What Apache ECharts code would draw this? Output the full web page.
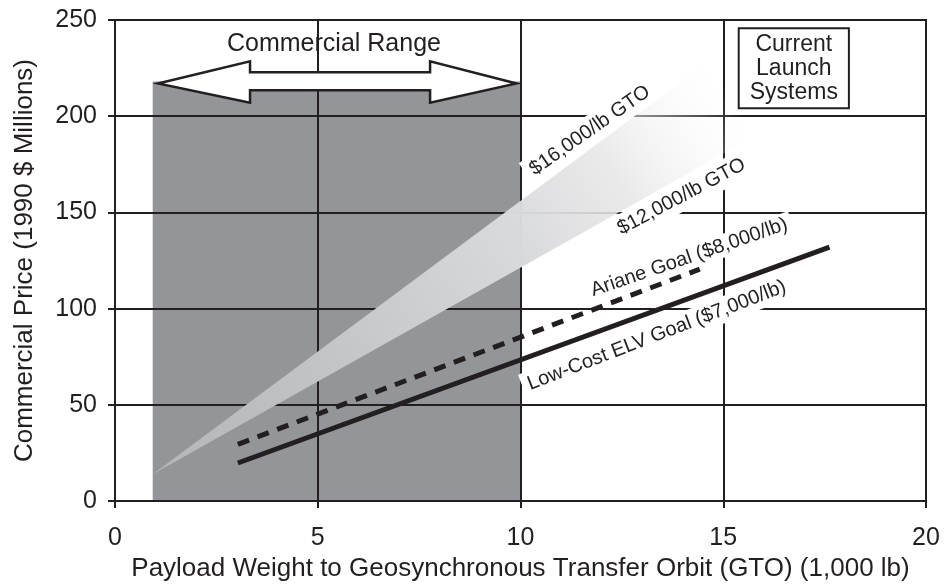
<!DOCTYPE html>
<html><head><meta charset="utf-8">
<script src="https://cdn.jsdelivr.net/npm/echarts@6/dist/echarts.min.js"></script>
<style>html,body{margin:0;padding:0;background:#fff}#c{width:946px;height:587px}</style>
</head><body><div id="c"></div>
<script>
// ---- data ----
const xRange = [0, 20];
const yRange = [0, 250];
const commercialRangeX = [0.93, 10];
const commercialRangeTop = 218;
const fanX = [0.93, 14.6, 15.8];
const fanY = [14, 228, 190];
const arrowX = [1.06, 3.33, 3.33, 7.77, 7.77, 9.9, 7.77, 7.77, 3.33, 3.33];
const arrowY = [217, 228.5, 222.8, 222.8, 228.5, 217, 207, 213.5, 213.5, 207];
const arianeX = [3.03, 14.42];
const arianeY = [29.5, 120.5];
const elvX = [3.03, 17.62];
const elvY = [19.8, 132];
const annotationTexts = ['Commercial Range', 'Current\nLaunch\nSystems', '$16,000/lb GTO', '$12,000/lb GTO', 'Ariane Goal ($8,000/lb)', 'Low-Cost ELV Goal ($7,000/lb)'];

// ---- layout / style ----
const INK = '#231f20';
const FONT = '"Liberation Sans", Arial, Helvetica, sans-serif';
const annotationLayout = [
  {at: [5.4, 237.7], rotate: 0, size: 25},
  {at: [16.74, 224.9], rotate: 0, size: 23, box: true},
  {at: [11.71, 192.6], rotate: 35, size: 20, pad: [4, 6]},
  {at: [13.97, 158.2], rotate: 28, size: 20, pad: [4, 6]},
  {at: [14.16, 126.6], rotate: 19, size: 20, pad: [3, 5, 0, 5]},
  {at: [13.36, 86.1], rotate: 21, size: 20, pad: [2, 6, 4, 6]}
];

const chart = echarts.init(document.getElementById('c'), null, {renderer: 'canvas'});

const annData = annotationTexts.map((t, i) => {
  const L = annotationLayout[i];
  const label = {
    show: true, position: 'inside', formatter: t, rotate: L.rotate, opacity: 1,
    fontSize: L.size, color: INK, fontFamily: FONT, align: 'center', verticalAlign: 'middle'
  };
  if (L.pad) { label.backgroundColor = '#fff'; label.padding = L.pad; }
  if (L.box) {
    label.backgroundColor = '#fff'; label.borderColor = INK; label.borderWidth = 2;
    label.padding = [4, 10, 2, 10]; label.lineHeight = 24;
  }
  return {value: L.at, label};
});

const axisCommon = {
  type: 'value', z: 1,
  axisLine: {show: true, onZero: false, lineStyle: {color: INK, width: 2}},
  axisTick: {show: true, inside: false, length: 7, lineStyle: {color: INK, width: 2}},
  splitLine: {show: true, lineStyle: {color: INK, width: 2}},
  nameLocation: 'middle',
  nameTextStyle: {fontSize: 26, color: INK, fontFamily: FONT}
};

chart.setOption({
  animation: false,
  backgroundColor: '#fff',
  grid: {left: 115, right: 20, top: 20, bottom: 84, show: true, borderColor: INK, borderWidth: 2, backgroundColor: 'transparent'},
  xAxis: Object.assign({}, axisCommon, {
    min: xRange[0], max: xRange[1], interval: 5,
    axisLabel: {fontSize: 25, color: INK, fontFamily: FONT, margin: 25},
    name: 'Payload Weight to Geosynchronous Transfer Orbit (GTO) (1,000 lb)', nameGap: 53
  }),
  yAxis: Object.assign({}, axisCommon, {
    min: yRange[0], max: yRange[1], interval: 50,
    axisLabel: {fontSize: 25, color: INK, fontFamily: FONT, margin: 18},
    name: 'Commercial Price (1990 $ Millions)', nameGap: 77
  }),
  series: [
    {
      type: 'custom', z: 0, silent: true,
      data: [[commercialRangeX[0], 0, commercialRangeX[1], commercialRangeTop]],
      renderItem: (p, api) => {
        const a = api.coord([api.value(0), api.value(1)]);
        const b = api.coord([api.value(2), api.value(3)]);
        return {type: 'rect', shape: {x: a[0], y: b[1], width: b[0] - a[0], height: a[1] - b[1]}, style: {fill: '#939598'}};
      }
    },
    {
      type: 'custom', z: 2, silent: true,
      data: [[fanX[0], fanY[0]]],
      renderItem: (p, api) => {
        const pts = fanX.map((x, i) => api.coord([x, fanY[i]]));
        const m = [(pts[1][0] + pts[2][0]) / 2, (pts[1][1] + pts[2][1]) / 2];
        const fill = new echarts.graphic.LinearGradient(pts[0][0], pts[0][1], m[0], m[1], [
          {offset: 0, color: '#b3b5b8'},
          {offset: 0.3, color: '#c2c4c6'},
          {offset: 0.62, color: '#d8d9db'},
          {offset: 0.8, color: 'rgba(230,230,231,0.85)'},
          {offset: 1, color: 'rgba(248,248,248,0)'}
        ], true);
        return {type: 'polygon', shape: {points: pts}, style: {fill}};
      }
    },
    {
      type: 'line', z: 3, silent: true, symbol: 'none',
      data: arianeX.map((x, i) => [x, arianeY[i]]),
      lineStyle: {color: INK, width: 5, type: [12, 9], cap: 'butt'}
    },
    {
      type: 'line', z: 3, silent: true, symbol: 'none',
      data: elvX.map((x, i) => [x, elvY[i]]),
      lineStyle: {color: INK, width: 5, cap: 'butt'}
    },
    {
      type: 'custom', z: 4, silent: true,
      data: [[arrowX[0], arrowY[0]]],
      renderItem: (p, api) => {
        const pts = arrowX.map((x, i) => api.coord([x, arrowY[i]]));
        return {type: 'polygon', shape: {points: pts}, style: {fill: '#fff', stroke: INK, lineWidth: 2.5, lineJoin: 'miter'}};
      }
    },
    {
      type: 'scatter', z: 10, silent: true, symbolSize: 0,
      itemStyle: {opacity: 1},
      data: annData
    }
  ]
});
</script>
</body></html>
